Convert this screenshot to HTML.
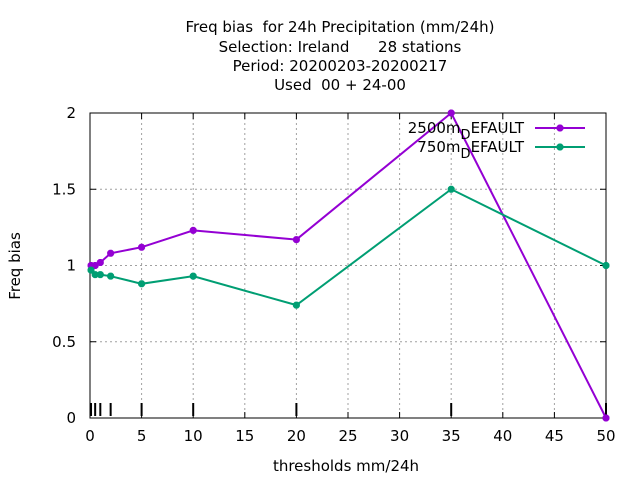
<!DOCTYPE html>
<html><head><meta charset="utf-8"><style>
body{margin:0;background:#fff;}
svg text{font-family:"DejaVu Sans",sans-serif;font-size:15px;fill:#000;white-space:pre;}
</style></head><body>
<svg id="chart" width="640" height="480">
<g id="grid"></g>
<g id="axes"></g>
<g id="series"></g>
<g text-anchor="middle">
<text x="340" y="32" xml:space="preserve">Freq bias  for 24h Precipitation (mm/24h)</text>
<text x="340" y="52" xml:space="preserve">Selection: Ireland      28 stations</text>
<text x="340" y="71">Period: 20200203-20200217</text>
<text x="340" y="90" xml:space="preserve">Used  00 + 24-00</text>
</g>
<text x="346" y="471" text-anchor="middle">thresholds mm/24h</text>
<text transform="translate(20,266) rotate(-90)" text-anchor="middle">Freq bias</text>
<g id="legend"></g>
</svg>
<script>
const thresholds=[0.1,0.5,1,2,5,10,20,35,50];
const bias2500=[1.0,1.0,1.02,1.08,1.12,1.23,1.17,2.0,0.0];
const bias750=[0.97,0.94,0.94,0.93,0.88,0.93,0.74,1.5,1.0];
const xTicks=[0,5,10,15,20,25,30,35,40,45,50];
const yTicks=[0,0.5,1,1.5,2];
const yTickLabels=["0","0.5","1","1.5","2"];
const seriesNames=["2500m","750m"];
const NS="http://www.w3.org/2000/svg";
const L=90,R=606,T=113,B=418;
const sx=v=>L+(v/50)*(R-L);
const sy=v=>B-(v/2)*(B-T);
function mk(tag,attrs,parent){const e=document.createElementNS(NS,tag);for(const k in attrs)e.setAttribute(k,attrs[k]);parent.appendChild(e);return e;}
const grid=document.getElementById('grid'),axes=document.getElementById('axes'),ser=document.getElementById('series'),leg=document.getElementById('legend');
xTicks.forEach(t=>{
 if(t>0&&t<50){const g=mk('line',{x1:sx(t),x2:sx(t),y1:T,y2:B,stroke:'#a0a0a0','stroke-dasharray':'2,3'},grid);
 }
 const tk=mk('line',{x1:sx(t),x2:sx(t),y1:B,y2:B-6,stroke:'#000'},axes);
 
 const tk2=mk('line',{x1:sx(t),x2:sx(t),y1:T,y2:T+6,stroke:'#000'},axes);
 
 const tx=mk('text',{x:sx(t),y:B+23,'text-anchor':'middle'},axes);tx.textContent=t;
 
});
yTicks.forEach((t,i)=>{
 if(t>0&&t<2){const g=mk('line',{x1:L,x2:R,y1:sy(t),y2:sy(t),stroke:'#a0a0a0','stroke-dasharray':'2,3'},grid);
 }
 const tk=mk('line',{x1:L,x2:L+6,y1:sy(t),y2:sy(t),stroke:'#000'},axes);
 
 const tk2=mk('line',{x1:R,x2:R-6,y1:sy(t),y2:sy(t),stroke:'#000'},axes);
 
 const tx=mk('text',{x:L-14,y:sy(t)+5,'text-anchor':'end'},axes);tx.textContent=yTickLabels[i];
 
});
thresholds.forEach(t=>{
 const m=mk('line',{x1:sx(t),x2:sx(t),y1:B-15,y2:B-2,stroke:'#000','stroke-width':2},axes);
 
});
const frame=mk('rect',{x:L,y:T,width:R-L,height:B-T,fill:'none',stroke:'#000'},axes);

function star(cx,cy,parent,col){
 mk('path',{d:`M${cx-3.5},${cy}h7M${cx},${cy-3.5}v7M${cx-2.5},${cy-2.5}l5,5M${cx-2.5},${cy+2.5}l5,-5`,stroke:col,'stroke-width':2.5},parent);
 return mk('circle',{cx:cx,cy:cy,r:3,fill:col},parent);
}
[[bias2500,'#9400d3'],[bias750,'#009e73']].forEach(([vals,col],si)=>{
 const g=mk('g',{},ser);
 
 const pl=mk('polyline',{points:thresholds.map((t,i)=>sx(t)+','+sy(vals[i])).join(' '),fill:'none',stroke:col,'stroke-width':2},g);
 
 thresholds.forEach((t,i)=>{const c=star(sx(t),sy(vals[i]),g,col);
  });
 const ly=128+si*19;
 const le=mk('g',{},leg);
 
 const tx=mk('text',{x:524,y:ly+5,'text-anchor':'end'},le);
 tx.innerHTML=seriesNames[si]+'<tspan dy="6" font-size="13">D</tspan><tspan dy="-6">EFAULT</tspan>';
 mk('line',{x1:535,x2:585,y1:ly,y2:ly,stroke:col,'stroke-width':2},le);
 star(560,ly,le,col);
});
</script>
</body></html>
